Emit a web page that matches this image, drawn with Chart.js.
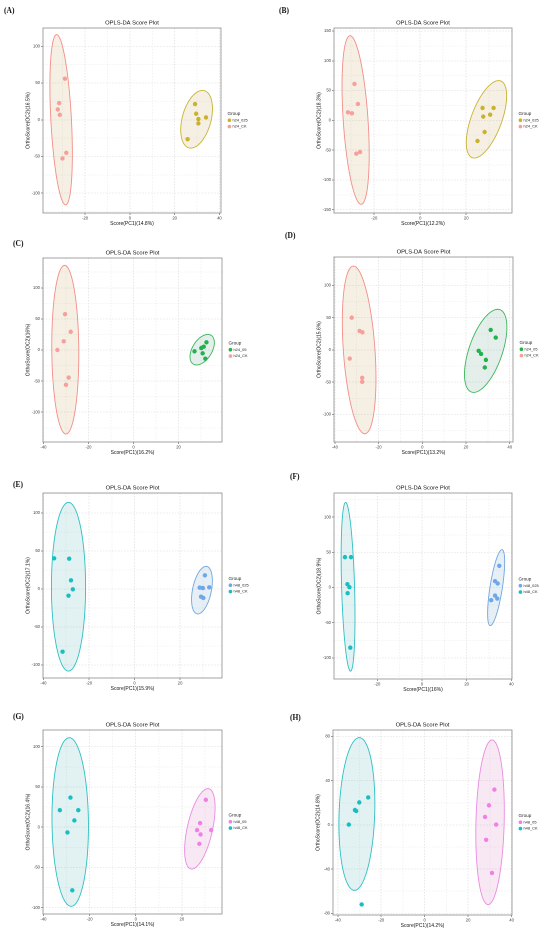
<!DOCTYPE html>
<html><head><meta charset="utf-8">
<script src="https://cdn.jsdelivr.net/npm/chart.js@4.4.1/dist/chart.umd.min.js"></script>
<style>
html,body{margin:0;padding:0;background:#fff;}
#wrap{position:relative;width:550px;height:935px;overflow:hidden;background:#fff;}
#wrap canvas{position:absolute;}
.lbl{position:absolute;font-family:"Liberation Serif","Times New Roman",serif;font-weight:bold;font-size:7.5px;line-height:1;color:#111;white-space:nowrap;}
</style></head><body><div id="wrap"></div>
<script>
// ---------------- data ----------------
const panelLabels = ['(A)','(B)','(C)','(D)','(E)','(F)','(G)','(H)'];
const groupTreat = ['h24_025','h24_025','h24_05','h24_05','h48_025','h48_025','h48_05','h48_05'];
const groupCK = ['h24_CK','h24_CK','h24_CK','h24_CK','h48_CK','h48_CK','h48_CK','h48_CK'];
const plotTitle = 'OPLS-DA Score Plot';
const xTitles = ['Score(PC1)(14.8%)','Score(PC1)(12.2%)','Score(PC1)(16.2%)','Score(PC1)(13.2%)',
                 'Score(PC1)(15.9%)','Score(PC1)(16%)','Score(PC1)(14.1%)','Score(PC1)(14.2%)'];
const yTitles = ['OrthoScore(OC2)(16.5%)','OrthoScore(OC2)(18.3%)','OrthoScore(OC2)(16%)','OrthoScore(OC2)(15.6%)',
                 'OrthoScore(OC2)(17.1%)','OrthoScore(OC2)(18.9%)','OrthoScore(OC2)(16.4%)','OrthoScore(OC2)(14.8%)'];
const xLimits = [[-38.8,40.7],[-37.5,39.9],[-40.2,39.3],[-40.4,41.5],[-40.2,38.4],[-39.4,40.3],[-40.2,37.4],[-42.2,40.2]];
const yLimits = [[-127,125],[-155.6,155],[-147.8,147.8],[-142.8,144],[-117.1,126.3],[-130.1,134.4],[-107.9,120.7],[-81.5,85.9]];
const xBreakStep = [20,20,20,20,20,20,20,20];
const yBreakStep = [50,50,50,50,50,50,50,40];

const treatA = [[29.1,21.4],[29.6,8.2],[30.6,0.9],[30.6,-5.0],[34.0,3.2],[25.8,-26.4]];
const ckA    = [[-29.0,55.9],[-31.6,22.7],[-32.2,14.1],[-31.3,6.8],[-28.4,-45.0],[-30.1,-52.7]];
const treatB = [[27.1,20.7],[31.9,20.7],[27.4,6.2],[30.4,9.5],[28.0,-19.6],[24.9,-34.7]];
const ckB    = [[-28.6,61.0],[-27.1,27.4],[-31.4,13.4],[-29.7,11.8],[-27.8,-56.0],[-26.2,-53.2]];
const treatC = [[32.4,12.3],[31.2,5.3],[30.1,3.2],[27.1,-2.1],[30.7,-5.3],[31.9,-13.9]];
const ckC    = [[-30.4,57.6],[-27.9,29.3],[-31.0,13.9],[-33.8,0.0],[-28.8,-44.3],[-30.0,-56.0]];
const treatD = [[31.3,30.9],[33.6,19.1],[25.8,-1.5],[26.9,-6.2],[29.1,-15.5],[28.6,-27.3]];
const ckD    = [[-32.3,50.0],[-28.7,29.4],[-27.4,27.3],[-33.2,-13.4],[-27.5,-43.3],[-27.5,-49.5]];
const treatE = [[30.9,18.0],[28.6,1.8],[30.0,1.3],[32.8,2.2],[29.2,-10.1],[30.2,-11.8]];
const ckE    = [[-35.3,40.4],[-28.7,39.9],[-27.9,11.4],[-27.1,-0.4],[-29.0,-8.8],[-31.6,-82.5]];
const treatF = [[34.6,30.9],[32.7,9.0],[33.9,5.7],[32.7,-11.4],[33.7,-15.7],[31.0,-18.0]];
const ckF    = [[-34.5,43.2],[-31.8,43.2],[-33.4,4.7],[-32.5,0.5],[-33.3,-8.1],[-32.1,-85.5]];
const treatG = [[30.4,33.9],[27.9,5.0],[26.6,-3.7],[32.7,-3.7],[28.1,-9.1],[27.6,-20.7]];
const ckG    = [[-28.3,36.8],[-32.9,21.1],[-24.9,21.1],[-26.6,8.3],[-29.6,-6.6],[-27.5,-78.5]];
const treatH = [[32.1,32.0],[29.6,17.7],[27.8,7.2],[32.9,0.3],[28.3,-13.5],[31.0,-43.4]];
const ckH    = [[-34.9,0.3],[-32.1,13.5],[-31.5,12.6],[-30.1,20.4],[-26.0,24.9],[-29.0,-71.9]];

// confidence ellipses: [centerX, centerY, axisUx, axisUy, conjugateVx]
const ellTreat = [[29.8,0.7,2.6,39.3,6.6],[28.8,1.7,5.3,65,7.0],[30.5,0.5,2.5,24.5,4.8],[29.0,-1.5,5.5,64.4,8.0],
                  [29.6,-1.5,1.8,31.3,4.2],[33.2,-0.2,2.6,54,2.8],[27.8,-2.1,3.5,50,5.6],[30.1,2.4,0.9,74.5,6.5]];
const ellCK    = [[-30.7,0,-2.0,116,4.6],[-28.1,0.5,-2.4,141.5,5.4],[-30.3,0.5,-0.3,135.5,6.0],[-28.9,0,-2.6,130,7.25],
                  [-29.0,3,0,111,7.5],[-33.1,1,-1.1,120,2.9],[-28.4,6.4,-0.4,104.8,7.9],[-31.2,9.9,1.1,69.1,8.2]];

const treatPoints = [treatA,treatB,treatC,treatD,treatE,treatF,treatG,treatH];
const ckPoints = [ckA,ckB,ckC,ckD,ckE,ckF,ckG,ckH];

// ---------------- styles / layout ----------------
const FONT = '"Liberation Sans", Arial, Helvetica, sans-serif';
Chart.defaults.font.family = FONT;
const pal = {
  olive:  {pt:'#C9B22C', line:'#C8B434', fill:'rgba(195,148,75,0.15)'},
  pink:   {pt:'#F5A09B', line:'#F28E88', fill:'rgba(195,148,75,0.15)'},
  green:  {pt:'#22B24C', line:'#3DB65B', fill:'rgba(75,148,128,0.15)'},
  blue:   {pt:'#6FA7E8', line:'#70A7E0', fill:'rgba(88,148,188,0.15)'},
  teal:   {pt:'#18BFC2', line:'#2EC0C3', fill:'rgba(62,168,168,0.15)'},
  mag:    {pt:'#F07FE6', line:'#EA8BE1', fill:'rgba(208,102,182,0.15)'}
};
const treatPal = [pal.olive,pal.olive,pal.green,pal.green,pal.blue,pal.blue,pal.mag,pal.mag];
const ckPal = [pal.pink,pal.pink,pal.pink,pal.pink,pal.teal,pal.teal,pal.teal,pal.teal];
const canvasPos = [[0,0],[275,0],[0,230],[275,230],[0,460],[275,460],[0,700],[275,700]];
const plotArea = [[43,28,221,213],[59,28,237,213],[43,28,222,212],[59,27,238,212],
                  [43,33,222,218],[59,33,237,219],[43,30,222,214],[58,30,237,215]];
const labelPos = [[4,7],[279,7],[13,240],[285,232],[13,481],[290,473],[13,713],[290,714]];
const CW = 275, CH = 234, XAXIS_H = 13.6, YAXIS_W = 18;

const decorPlugin = {
  id: 'decor',
  beforeDatasetsDraw(chart, args, opts) {
    const ctx = chart.ctx, xs = chart.scales.x, ys = chart.scales.y;
    opts.ellipses.forEach(el => {
      const e = el.p;
      ctx.save();
      ctx.beginPath();
      const N = 120;
      for (let k = 0; k <= N; k++) {
        const t = k / N * 2 * Math.PI;
        const px = xs.getPixelForValue(e[0] + e[2] * Math.cos(t) + e[4] * Math.sin(t));
        const py = ys.getPixelForValue(e[1] + e[3] * Math.cos(t));
        if (k === 0) ctx.moveTo(px, py); else ctx.lineTo(px, py);
      }
      ctx.closePath();
      ctx.fillStyle = el.fill; ctx.fill();
      ctx.strokeStyle = el.line; ctx.lineWidth = 0.9; ctx.stroke();
      ctx.restore();
    });
  },
  afterDatasetsDraw(chart) {
    const ctx = chart.ctx, a = chart.chartArea;
    ctx.save();
    ctx.strokeStyle = '#9a9a9a'; ctx.lineWidth = 0.9;
    ctx.strokeRect(a.left, a.top, a.right - a.left, a.bottom - a.top);
    ctx.restore();
  },
  afterDraw(chart, args, opts) {
    const ctx = chart.ctx, a = chart.chartArea;
    const cy = (a.top + a.bottom) / 2, x0 = a.right + 6.5;
    ctx.save();
    ctx.textBaseline = 'middle'; ctx.textAlign = 'left'; ctx.fillStyle = '#222';
    ctx.font = '4.6px ' + FONT;
    ctx.fillText('Group', x0, cy - 7);
    ctx.font = '3.9px ' + FONT;
    chart.data.datasets.forEach((ds, i) => {
      const y = cy - 0.3 + i * 6.4;
      ctx.beginPath(); ctx.arc(x0 + 1.9, y, 1.8, 0, Math.PI * 2);
      ctx.fillStyle = ds.backgroundColor; ctx.fill();
      ctx.fillStyle = '#222';
      ctx.fillText(ds.label, x0 + 5, y);
    });
    ctx.restore();
  }
};

const wrap = document.getElementById('wrap');
function isMajor(v, step) { return Math.abs(v / step - Math.round(v / step)) < 1e-6; }

function axisCfg(lim, step, title, isX) {
  return {
    type: 'linear', min: lim[0], max: lim[1],
    ticks: {
      stepSize: step / 2, includeBounds: false, autoSkip: false, maxRotation: 0,
      padding: isX ? 1.0 : 1, color: '#444', font: {size: 4.2},
      callback: v => isMajor(v, step) ? String(Math.round(v)) : ''
    },
    grid: {
      lineWidth: 0.6, tickLength: 2, drawTicks: true,
      color: c => (c.tick && isMajor(c.tick.value, step)) ? '#d8d8d8' : '#eaeaea',
      tickColor: c => (c.tick && isMajor(c.tick.value, step)) ? '#555' : 'rgba(0,0,0,0)',
      tickWidth: 0.6
    },
    border: {display: false, dash: [1.5, 1.5]},
    title: {display: true, text: title, color: '#111', font: {size: 5.0}, padding: {top: 0, bottom: 0}},
    afterFit: s => { if (isX) s.height = XAXIS_H; else s.width = YAXIS_W; }
  };
}

for (let i = 0; i < 8; i++) {
  const cv = document.createElement('canvas');
  cv.width = CW; cv.height = CH;
  cv.style.left = canvasPos[i][0] + 'px'; cv.style.top = canvasPos[i][1] + 'px';
  cv.style.width = CW + 'px'; cv.style.height = CH + 'px';
  wrap.appendChild(cv);
  const lab = document.createElement('div');
  lab.className = 'lbl'; lab.textContent = panelLabels[i];
  lab.style.left = labelPos[i][0] + 'px'; lab.style.top = labelPos[i][1] + 'px';
  wrap.appendChild(lab);

  const [l, t, r, b] = plotArea[i];
  const titleLH = 5.8 * 1.2;
  new Chart(cv, {
    type: 'scatter',
    data: {
      datasets: [
        {label: groupTreat[i], data: treatPoints[i].map(p => ({x: p[0], y: p[1]})),
         backgroundColor: treatPal[i].pt, borderColor: treatPal[i].pt, pointRadius: 2.2, borderWidth: 0},
        {label: groupCK[i], data: ckPoints[i].map(p => ({x: p[0], y: p[1]})),
         backgroundColor: ckPal[i].pt, borderColor: ckPal[i].pt, pointRadius: 2.2, borderWidth: 0}
      ]
    },
    options: {
      responsive: false, animation: false, devicePixelRatio: 2,
      layout: {padding: {left: l - YAXIS_W, top: 0, right: CW - r, bottom: CH - b - XAXIS_H}},
      scales: {
        x: axisCfg(xLimits[i], xBreakStep[i], xTitles[i], true),
        y: axisCfg(yLimits[i], yBreakStep[i], yTitles[i], false)
      },
      plugins: {
        legend: {display: false},
        tooltip: {enabled: false},
        title: {display: true, text: plotTitle, fullSize: false, color: '#111',
                font: {size: 5.8, weight: 'normal'}, padding: {top: t - titleLH - 1.8, bottom: 1.8}},
        decor: {ellipses: [
          {p: ellTreat[i], line: treatPal[i].line, fill: treatPal[i].fill},
          {p: ellCK[i], line: ckPal[i].line, fill: ckPal[i].fill}
        ]}
      }
    },
    plugins: [decorPlugin]
  });
}
</script></body></html>
